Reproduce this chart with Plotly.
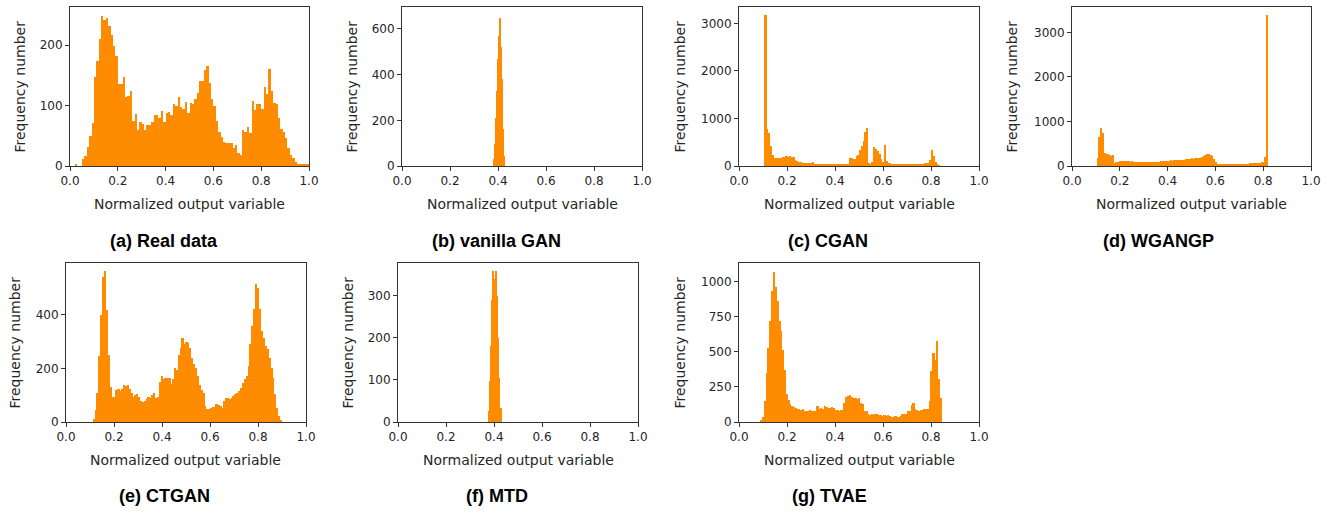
import numpy as np
import plotly.graph_objects as go

W, H = 1336, 514
BAR_COLOR = "#ff8c00"
FRAME = "#333333"
TEXT = "#262626"

# histogram bin counts (equal-width bins between lo and hi)
real_lo, real_hi = 0.0, 1.0
real_counts = [0, 0, 3, 0, 0, 11, 16, 31, 50, 71,
               147, 173, 210, 248, 241, 245, 232, 216, 198, 182,
               136, 136, 148, 114, 116, 124, 74, 86, 60, 72,
               70, 59, 68, 68, 73, 85, 84, 80, 91, 73,
               87, 90, 84, 103, 99, 114, 97, 95, 106, 88,
               105, 103, 111, 121, 141, 141, 158, 165, 138, 111,
               100, 74, 57, 48, 40, 38, 38, 38, 29, 35,
               21, 19, 60, 57, 65, 54, 107, 92, 102, 102,
               95, 131, 119, 161, 124, 105, 102, 79, 61, 57,
               46, 29, 19, 13, 7, 4, 4, 3, 4, 3]

gan_lo, gan_hi = 0.382, 0.426
gan_counts = [30, 95, 210, 330, 470, 570, 650, 520, 380, 160, 45]

cgan_lo, cgan_hi = 0.108, 0.838
cgan_counts = [3180, 780, 700, 420, 240, 170, 160, 170, 175, 175,
               185, 195, 200, 195, 200, 190, 180, 130, 110, 90,
               80, 65, 60, 62, 58, 55, 60, 90, 50, 48,
               52, 50, 45, 50, 48, 47, 52, 45, 44, 46,
               42, 38, 36, 35, 34, 36, 33, 35, 165, 160,
               150, 155, 200, 240, 330, 420, 530, 720, 790, 60,
               50, 80, 390, 360, 320, 250, 150, 90, 450, 100,
               60, 55, 50, 52, 48, 50, 45, 48, 50, 46,
               44, 48, 50, 45, 47, 50, 48, 46, 50, 52,
               48, 55, 60, 70, 130, 330, 200, 90, 30, 15]

wgangp_lo, wgangp_hi = 0.105, 0.82
wgangp_counts = [170, 640, 850, 750, 300, 260, 270, 240, 230, 250,
                 60, 90, 100, 110, 115, 105, 112, 108, 110, 100,
                 105, 85, 82, 80, 85, 88, 82, 80, 84, 86,
                 88, 85, 90, 92, 95, 98, 100, 105, 110, 108,
                 115, 118, 120, 125, 122, 130, 128, 135, 132, 140,
                 138, 145, 150, 160, 155, 170, 165, 175, 185, 190,
                 180, 200, 230, 250, 260, 265, 240, 220, 150, 80,
                 50, 45, 40, 42, 38, 40, 35, 38, 36, 40,
                 38, 42, 40, 45, 42, 48, 50, 55, 52, 58,
                 60, 62, 65, 68, 70, 75, 80, 90, 200, 3390]

ctgan_lo, ctgan_hi = 0.113, 0.9
ctgan_counts = [12, 45, 110, 245, 400, 540, 565, 420, 250, 130,
                95, 95, 120, 125, 115, 125, 140, 135, 140, 125,
                110, 95, 100, 105, 95, 80, 75, 80, 85, 95,
                90, 100, 110, 90, 95, 150, 172, 160, 163, 163,
                163, 143, 160, 200, 193, 250, 278, 312, 290, 300,
                295, 278, 240, 215, 203, 172, 138, 120, 110, 60,
                50, 47, 54, 55, 56, 66, 64, 60, 54, 79,
                88, 91, 85, 91, 97, 105, 110, 116, 128, 147,
                160, 172, 209, 290, 359, 421, 515, 502, 421, 340,
                315, 284, 272, 240, 203, 166, 103, 54, 22, 6]

mtd_lo, mtd_hi = 0.375, 0.43
mtd_counts = [25, 97, 180, 290, 359, 340, 359, 300, 200, 105, 33]

tvae_lo, tvae_hi = 0.09, 0.845
tvae_counts = [12, 35, 150, 350, 530, 720, 930, 1071, 960, 860,
               716, 645, 515, 373, 196, 160, 125, 115, 110, 102,
               95, 92, 88, 90, 78, 80, 75, 82, 78, 76,
               80, 113, 95, 98, 92, 113, 108, 102, 100, 105,
               98, 83, 85, 80, 82, 84, 137, 175, 184, 190,
               180, 168, 172, 165, 170, 137, 130, 80, 75, 55,
               52, 58, 50, 54, 56, 52, 47, 45, 50, 44,
               48, 42, 38, 35, 40, 36, 38, 42, 54, 55,
               60, 78, 80, 120, 137, 90, 85, 80, 83, 88,
               90, 92, 95, 150, 362, 492, 445, 575, 303, 173]

x_ticks = [0.0, 0.2, 0.4, 0.6, 0.8, 1.0]

# (caption, lo, hi, counts, y ticks, y max, plot box px (l, t, r, b), y-title x px, caption centre px)
panels = [
    ("(a) Real data", real_lo, real_hi, real_counts, [0, 100, 200], 263,
     (70, 7, 309, 166), 19, (164, 241)),
    ("(b) vanilla GAN", gan_lo, gan_hi, gan_counts, [0, 200, 400, 600], 696,
     (402, 7, 642, 166), 351, (496, 241)),
    ("(c) CGAN", cgan_lo, cgan_hi, cgan_counts, [0, 1000, 2000, 3000], 3343,
     (739, 7, 979, 166), 679, (828, 241)),
    ("(d) WGANGP", wgangp_lo, wgangp_hi, wgangp_counts, [0, 1000, 2000, 3000], 3568,
     (1072, 7, 1311, 166), 1011, (1158, 241)),
    ("(e) CTGAN", ctgan_lo, ctgan_hi, ctgan_counts, [0, 200, 400], 594,
     (66, 263, 306, 422), 14, (164, 496)),
    ("(f) MTD", mtd_lo, mtd_hi, mtd_counts, [0, 100, 200, 300], 378,
     (398, 263, 638, 422), 347, (497, 496)),
    ("(g) TVAE", tvae_lo, tvae_hi, tvae_counts, [0, 250, 500, 750, 1000], 1132,
     (739, 263, 979, 422), 679, (829, 496)),
]

fig = go.Figure()
annotations = []
layout_axes = {}

for i, (caption, lo, hi, counts, yticks, ymax, box, ylab_x, cap_xy) in enumerate(panels, start=1):
    n = len(counts)
    width = (hi - lo) / n
    centers = lo + width * (np.arange(n) + 0.5)
    xa = "x" if i == 1 else f"x{i}"
    ya = "y" if i == 1 else f"y{i}"
    fig.add_trace(go.Bar(
        x=centers, y=counts, width=width,
        marker=dict(color=BAR_COLOR, line=dict(width=0)),
        xaxis=xa, yaxis=ya, showlegend=False,
    ))

    l, t, r, b = box
    axis_style = dict(
        showline=True, mirror=True, linecolor=FRAME, linewidth=1,
        ticks="outside", ticklen=4, tickwidth=1, tickcolor=FRAME,
        showgrid=False, zeroline=False, automargin=False,
        tickfont=dict(family="DejaVu Sans", size=12, color=TEXT),
    )
    layout_axes["xaxis" if i == 1 else f"xaxis{i}"] = dict(
        domain=[l / W, r / W], anchor=ya, range=[0, 1],
        tickvals=x_ticks, ticktext=[f"{v:.1f}" for v in x_ticks], **axis_style)
    layout_axes["yaxis" if i == 1 else f"yaxis{i}"] = dict(
        domain=[1 - b / H, 1 - t / H], anchor=xa, range=[0, ymax],
        tickvals=yticks, ticktext=[str(v) for v in yticks], **axis_style)

    label_font = dict(family="DejaVu Sans", size=14, color=TEXT)
    annotations.append(dict(
        text="Normalized output variable", xref="paper", yref="paper",
        x=(l + r) / 2 / W, y=1 - (b + 38) / H, xanchor="center", yanchor="middle",
        showarrow=False, font=label_font))
    annotations.append(dict(
        text="Frequency number", xref="paper", yref="paper", textangle=-90,
        x=ylab_x / W, y=1 - (t + b) / 2 / H, xanchor="center", yanchor="middle",
        showarrow=False, font=label_font))
    annotations.append(dict(
        text=f"<b>{caption}</b>", xref="paper", yref="paper",
        x=cap_xy[0] / W, y=1 - cap_xy[1] / H, xanchor="center", yanchor="middle",
        showarrow=False,
        font=dict(family="Liberation Sans, Arial", size=18, color="#000000")))

fig.update_layout(
    width=W, height=H,
    margin=dict(l=0, r=0, t=0, b=0),
    paper_bgcolor="white", plot_bgcolor="white",
    bargap=0, annotations=annotations,
    **layout_axes,
)

# drop the browser's default page margin so the figure sits at the window origin
fig.write_html("out.html", config={"displayModeBar": False},
               post_script="document.body.style.margin = '0';")
